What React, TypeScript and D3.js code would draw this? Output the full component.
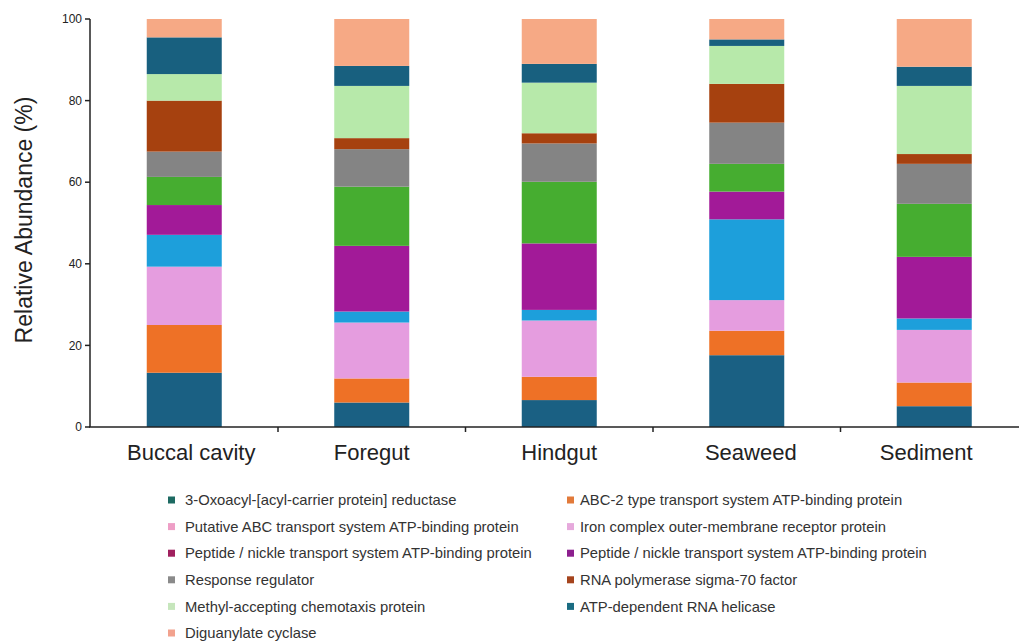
import React from "react";
import * as d3 from "d3";

// Sample sites along the x axis
const categories = ["Buccal cavity", "Foregut", "Hindgut", "Seaweed", "Sediment"];

// Relative abundance (%) of each functional gene per site, stacked bottom to top
const oxoacylReductase = [13.3, 6.0, 6.6, 17.6, 5.1];
const abc2Transport = [11.7, 5.9, 5.7, 6.0, 5.8];
const putativeAbcTransport = [14.3, 13.7, 13.8, 7.5, 12.9];
const ironComplexReceptor = [7.8, 2.7, 2.6, 19.8, 2.8];
const peptideNickleA = [7.3, 16.1, 16.3, 6.8, 15.1];
const peptideNickleB = [6.9, 14.5, 15.1, 6.8, 13.0];
const responseRegulator = [6.2, 9.2, 9.4, 10.1, 9.8];
const rnaPolymeraseSigma70 = [12.5, 2.7, 2.5, 9.5, 2.4];
const methylAcceptingChemotaxis = [6.5, 12.8, 12.4, 9.3, 16.7];
const atpDependentHelicase = [9.0, 4.9, 4.6, 1.6, 4.7];
const diguanylateCyclase = [4.5, 11.5, 11.0, 5.0, 11.7];

const seriesNames = [
  "3-Oxoacyl-[acyl-carrier protein] reductase",
  "ABC-2 type transport system ATP-binding protein",
  "Putative ABC transport system ATP-binding protein",
  "Iron complex outer-membrane receptor protein",
  "Peptide / nickle transport system ATP-binding protein",
  "Peptide / nickle transport system ATP-binding protein",
  "Response regulator",
  "RNA polymerase sigma-70 factor",
  "Methyl-accepting chemotaxis protein",
  "ATP-dependent RNA helicase",
  "Diguanylate cyclase",
];

const seriesValues = [
  oxoacylReductase,
  abc2Transport,
  putativeAbcTransport,
  ironComplexReceptor,
  peptideNickleA,
  peptideNickleB,
  responseRegulator,
  rnaPolymeraseSigma70,
  methylAcceptingChemotaxis,
  atpDependentHelicase,
  diguanylateCyclase,
];

const yTicks = [0, 20, 40, 60, 80, 100];

// Segment fills
const segmentColors = [
  "#1a6083",
  "#ee7126",
  "#e59ddf",
  "#1d9fdb",
  "#a21a98",
  "#46ad30",
  "#848484",
  "#a6410f",
  "#b7e9aa",
  "#18607f",
  "#f6a985",
];

// Legend swatch fills
const legendColors = [
  "#1d6a62",
  "#e27a3a",
  "#ee9ec6",
  "#e6a9dc",
  "#a0205e",
  "#8c1f8e",
  "#8a8a8a",
  "#a5441d",
  "#c6e6bc",
  "#1a6c82",
  "#f2a28e",
];

// Horizontal nudges of the category labels relative to their bars
const labelShift = [7, 0, 0, 4, -8];

const W = 1019;
const H = 642;
const FONT = "'Liberation Sans', Arial, Helvetica, sans-serif";

export default function App() {
  const axisX = 90;
  const y0 = 427;
  const y1 = 19;

  const x = d3
    .scaleBand<string>()
    .domain(categories)
    .range([90.5, 1028])
    .paddingInner(0.6)
    .paddingOuter(0.3);

  const y = d3.scaleLinear().domain([0, 100]).range([y0, y1]);

  const rows = categories.map((c, ci) => {
    const row: Record<string, number | string> = { category: c };
    seriesValues.forEach((vals, si) => {
      row["s" + si] = vals[ci];
    });
    return row;
  });
  const keys = seriesValues.map((_, i) => "s" + i);
  const stacked = d3.stack<Record<string, number | string>>().keys(keys)(rows);

  const step = x.step();
  const boundaries = d3.range(1, categories.length).map((i) => 90.5 + i * step);

  const legendX = [168, 567];
  const legendTextX = [185, 580];
  const legendY0 = 500;
  const legendDy = 26.6;

  return (
    <svg
      width={W}
      height={H}
      style={{ position: "absolute", left: 0, top: 0, background: "#fff" }}
      fontFamily={FONT}
    >
      {/* stacked bars */}
      {stacked.map((layer, si) => (
        <g key={layer.key} fill={segmentColors[si]}>
          {layer.map((d, ci) => (
            <rect
              key={ci}
              x={x(categories[ci])}
              width={x.bandwidth()}
              y={y(d[1])}
              height={y(d[0]) - y(d[1])}
            />
          ))}
        </g>
      ))}

      {/* y axis */}
      <line x1={axisX} x2={axisX} y1={y1} y2={y0} stroke="#222" strokeWidth={1.5} />
      {yTicks.map((t) => (
        <g key={t}>
          <line x1={axisX - 5} x2={axisX} y1={y(t)} y2={y(t)} stroke="#222" strokeWidth={1.5} />
          <text x={axisX - 8} y={y(t)} dy="0.35em" textAnchor="end" fontSize={12} fill="#222">
            {t}
          </text>
        </g>
      ))}
      <text
        transform={`translate(32,220) rotate(-90)`}
        textAnchor="middle"
        fontSize={23}
        fill="#222"
      >
        Relative Abundance (%)
      </text>

      {/* x axis */}
      <line x1={axisX - 1} x2={W} y1={y0} y2={y0} stroke="#222" strokeWidth={1.5} />
      {boundaries.map((b, i) => (
        <line key={i} x1={b} x2={b} y1={y0} y2={y0 + 5} stroke="#222" strokeWidth={1.5} />
      ))}
      {categories.map((c, i) => (
        <text
          key={c}
          x={(x(c) as number) + x.bandwidth() / 2 + labelShift[i]}
          y={460}
          textAnchor="middle"
          fontSize={22}
          fill="#222"
        >
          {c}
        </text>
      ))}

      {/* legend */}
      {seriesNames.map((name, i) => {
        const col = i % 2;
        const row = Math.floor(i / 2);
        const cy = legendY0 + row * legendDy;
        return (
          <g key={i}>
            <rect x={legendX[col]} y={cy - 3.5} width={7} height={7} fill={legendColors[i]} />
            <text x={legendTextX[col]} y={cy} dy="0.35em" fontSize={14.8} fill="#333">
              {name}
            </text>
          </g>
        );
      })}
    </svg>
  );
}
